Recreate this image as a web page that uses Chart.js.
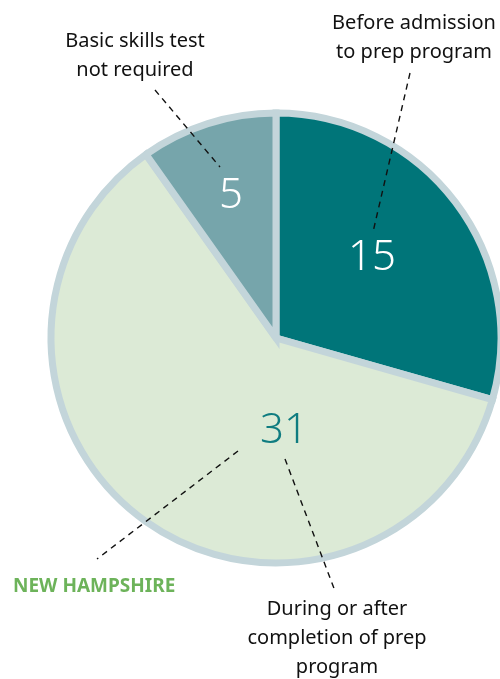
<!DOCTYPE html>
<html>
<head>
<meta charset="utf-8">
<script src="https://cdn.jsdelivr.net/npm/chart.js@4.4.1/dist/chart.umd.min.js"></script>
<style>
  html, body { margin: 0; padding: 0; background: #fff; }
  #wrap { width: 500px; height: 679px; }
</style>
</head>
<body>
<div id="wrap"><canvas id="myChart" width="500" height="679"></canvas></div>
<script>
// data
const categories = [
  "Before admission to prep program",
  "During or after completion of prep program",
  "Basic skills test not required",
];
const counts = [15, 31, 5];
const sliceColors = ["#007579", "#dcead6", "#76a5ab"];
const valueColors = ["#ffffff", "#0f7c80", "#ffffff"];
const stateName = "NEW HAMPSHIRE";

// where the numbers and callouts sit
const valueSpots = [[372, 258], [284, 431], [231, 196]];
const calloutLines = [
  { lines: ["Before admission", "to prep program"], x: 414, y: 29 },
  { lines: ["During or after", "completion of prep", "program"], x: 337, y: 615 },
  { lines: ["Basic skills test", "not required"], x: 135, y: 47 },
];
const leaders = [
  [[410, 73], [373, 232]],
  [[285, 459], [335, 591]],
  [[155, 90], [220, 167]],
  [[238, 451], [97, 559]],
];

const ctx = document.querySelector("#myChart").getContext("2d");

// draws the numbers, dashed leaders and the callout text
const annotations = {
  id: "annotations",
  afterDraw(chart) {
    const c = chart.ctx;
    c.save();

    // dashed leader lines
    c.strokeStyle = "#111";
    c.lineWidth = 1.4;
    c.setLineDash([6, 5]);
    for (const [a, b] of leaders) {
      c.beginPath();
      c.moveTo(a[0], a[1]);
      c.lineTo(b[0], b[1]);
      c.stroke();
    }
    c.setLineDash([]);

    // values inside slices
    c.textAlign = "center";
    c.textBaseline = "middle";
    c.font = "300 42px 'Noto Sans'";
    counts.forEach((v, i) => {
      c.fillStyle = valueColors[i];
      c.fillText(String(v), valueSpots[i][0], valueSpots[i][1]);
    });

    // callout labels
    c.textBaseline = "alphabetic";
    c.fillStyle = "#111";
    c.font = "20px 'Noto Sans'";
    for (const item of calloutLines) {
      item.lines.forEach((line, k) => {
        c.fillText(line, item.x, item.y + k * 29);
      });
    }

    // state name
    c.textAlign = "left";
    c.fillStyle = "#6db35a";
    c.font = "bold 19px 'Noto Sans'";
    c.fillText(stateName, 13, 592);

    c.restore();
  },
};

const pieChart = new Chart(ctx, {
  type: "pie",
  data: {
    labels: categories,
    datasets: [
      {
        data: counts,
        backgroundColor: sliceColors,
        borderColor: "#c3d5da",
        borderWidth: 7,
        borderJoinStyle: "miter",
        radius: 225,
      },
    ],
  },
  options: {
    responsive: false,
    animation: false,
    events: [],
    layout: { padding: { left: 52, right: 0, top: 100, bottom: 103 } },
    plugins: {
      legend: { display: false },
      tooltip: { enabled: false },
    },
  },
  plugins: [annotations],
});
</script>
</body>
</html>
